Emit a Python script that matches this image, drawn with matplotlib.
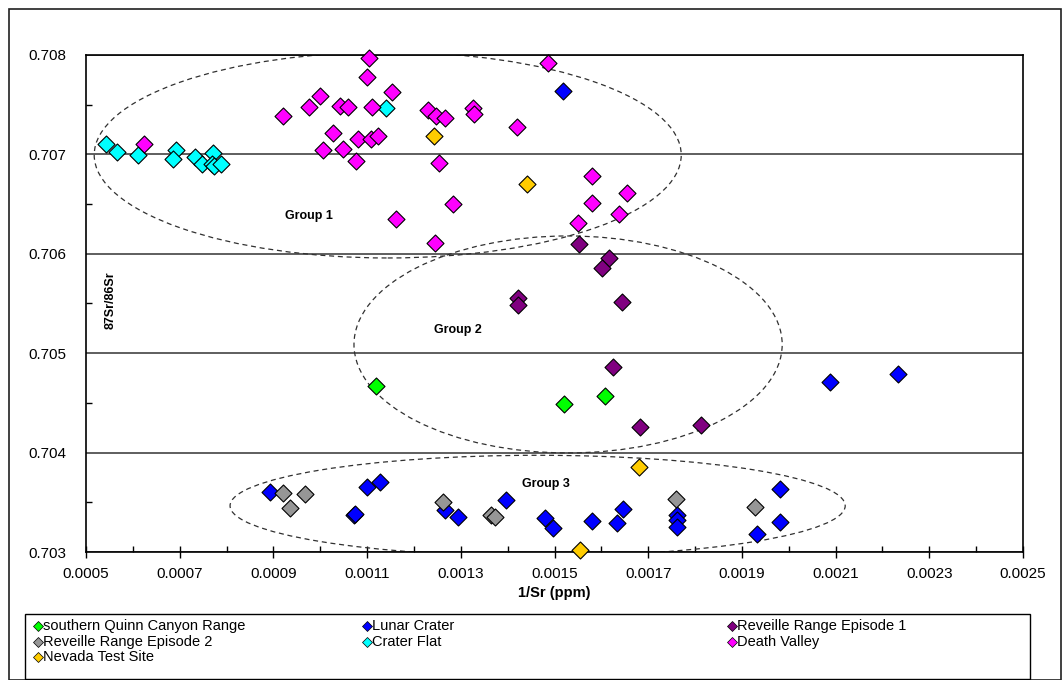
import matplotlib.pyplot as plt
import matplotlib.lines as mlines
from matplotlib.patches import Ellipse, Rectangle
from matplotlib.ticker import FixedLocator, MultipleLocator, FormatStrFormatter

plt.rcParams['font.family'] = ['Liberation Sans', 'DejaVu Sans']

# Series values
quinn_x = [0.001120, 0.001521, 0.001608]
quinn_y = [0.704673, 0.704486, 0.704573]

lunar_x = [0.001518, 0.002089, 0.002234, 0.000893, 0.001072, 0.001074, 0.001099,
           0.001127, 0.001266, 0.001295, 0.001396, 0.001480, 0.001496, 0.001579,
           0.001633, 0.001646, 0.001761, 0.001761, 0.001761, 0.001932, 0.001981,
           0.001981]
lunar_y = [0.707641, 0.704713, 0.704791, 0.703607, 0.703372, 0.703382, 0.703651,
           0.703707, 0.703423, 0.703356, 0.703523, 0.703339, 0.703239, 0.703315,
           0.703295, 0.703433, 0.703372, 0.703322, 0.703255, 0.703181, 0.703634,
           0.703299]

rev1_x = [0.001553, 0.001616, 0.001601, 0.001423, 0.001423, 0.001645, 0.001625,
          0.001682, 0.001813]
rev1_y = [0.706099, 0.705961, 0.705854, 0.705552, 0.705485, 0.705518, 0.704858,
          0.704258, 0.704278]

rev2_x = [0.000921, 0.000967, 0.000935, 0.001263, 0.001364, 0.001374, 0.001759, 0.001928]
rev2_y = [0.703591, 0.703581, 0.703440, 0.703506, 0.703372, 0.703349, 0.703530, 0.703456]

crater_x = [0.000542, 0.000566, 0.000610, 0.000693, 0.000685, 0.000733, 0.000748,
            0.000772, 0.000768, 0.000774, 0.000788, 0.001140]
crater_y = [0.707105, 0.707027, 0.706991, 0.707041, 0.706954, 0.706974, 0.706900,
            0.707014, 0.706900, 0.706883, 0.706900, 0.707464]

death_x = [0.000624, 0.000920, 0.000975, 0.001000, 0.001006, 0.001027, 0.001042,
           0.001060, 0.001049, 0.001077, 0.001081, 0.001099, 0.001103, 0.001111,
           0.001108, 0.001123, 0.001154, 0.001162, 0.001230, 0.001248, 0.001266,
           0.001253, 0.001284, 0.001245, 0.001327, 0.001329, 0.001419, 0.001487,
           0.001581, 0.001654, 0.001581, 0.001638, 0.001551]
death_y = [0.707105, 0.707389, 0.707480, 0.707591, 0.707044, 0.707212, 0.707487,
           0.707480, 0.707054, 0.706931, 0.707152, 0.707782, 0.707967, 0.707480,
           0.707152, 0.707185, 0.707625, 0.706350, 0.707447, 0.707389, 0.707363,
           0.706917, 0.706498, 0.706106, 0.707470, 0.707403, 0.707279, 0.707923,
           0.706783, 0.706609, 0.706508, 0.706398, 0.706313]

nevada_x = [0.001242, 0.001441, 0.001681, 0.001554]
nevada_y = [0.707188, 0.706699, 0.703858, 0.703020]

x_ticks = [0.0005, 0.0007, 0.0009, 0.0011, 0.0013, 0.0015, 0.0017, 0.0019, 0.0021, 0.0023, 0.0025]
y_ticks = [0.703, 0.704, 0.705, 0.706, 0.707, 0.708]

series = [
    ("southern Quinn Canyon Range", quinn_x, quinn_y, "#00FF00"),
    ("Lunar Crater", lunar_x, lunar_y, "#0000FF"),
    ("Reveille Range Episode 1", rev1_x, rev1_y, "#800080"),
    ("Reveille Range Episode 2", rev2_x, rev2_y, "#969696"),
    ("Crater Flat", crater_x, crater_y, "#00FFFF"),
    ("Death Valley", death_x, death_y, "#FF00FF"),
    ("Nevada Test Site", nevada_x, nevada_y, "#FFCC00"),
]

# Group ellipses: label, center, width, height, label position
groups = [
    ("Group 1", (0.001144, 0.706994), 0.001253, 0.002072, (0.000976, 0.70638)),
    ("Group 2", (0.001529, 0.705088), 0.000914, 0.002183, (0.001294, 0.705233)),
    ("Group 3", (0.001464, 0.703465), 0.001313, 0.001016, (0.001482, 0.703684)),
]


def main():
    fig = plt.figure(figsize=(10.62, 6.8), dpi=100)
    ax = fig.add_axes([86 / 1062, 1 - 552 / 680, (1023 - 86) / 1062, (552 - 55) / 680])

    # outer chart frame
    fig.add_artist(Rectangle((9 / 1062, 0.0), 1052 / 1062, 671 / 680,
                             transform=fig.transFigure, fill=False,
                             edgecolor="#202020", lw=1.2))

    for label, xs, ys, color in series:
        ax.scatter(xs, ys, marker="D", s=75, facecolor=color, edgecolor="black",
                   linewidth=0.8, zorder=3, clip_on=False, label=label)

    for name, center, w, h, pos in groups:
        ax.add_patch(Ellipse(center, w, h, fill=False, linestyle=(0, (4, 3)),
                             edgecolor="#303030", lw=0.9, zorder=2))
        ax.text(pos[0], pos[1], name, fontsize=9, fontweight="bold",
                ha="center", va="center")

    ax.set_xlim(0.0005, 0.0025)
    ax.set_ylim(0.703, 0.708)
    ax.xaxis.set_major_locator(FixedLocator(x_ticks))
    ax.xaxis.set_minor_locator(MultipleLocator(0.0001))
    ax.yaxis.set_major_locator(FixedLocator(y_ticks))
    ax.yaxis.set_minor_locator(MultipleLocator(0.0005))
    ax.xaxis.set_major_formatter(FormatStrFormatter("%.4f"))
    ax.yaxis.set_major_formatter(FormatStrFormatter("%.3f"))
    ax.tick_params(axis="x", which="major", direction="inout", length=9, width=1,
                   labelsize=11, pad=6)
    ax.tick_params(axis="x", which="minor", direction="in", length=4, width=1)
    ax.tick_params(axis="y", which="major", length=0, labelsize=11, pad=14)
    ax.tick_params(axis="y", which="minor", direction="in", length=4, width=1)
    ax.yaxis.grid(True, which="major", color="#333333", lw=1.1)
    ax.set_axisbelow(True)
    for sp in ax.spines.values():
        sp.set_color("black")
        sp.set_linewidth(1.2)

    ax.set_xlabel("1/Sr (ppm)", fontsize=10.5, fontweight="bold", labelpad=4)
    ax.text(0.026, 0.507, "87Sr/86Sr", transform=ax.transAxes, rotation=90,
            fontsize=9, fontweight="bold", ha="center", va="center")

    # legend box laid out like the original (three columns, row-wise)
    fig.add_artist(Rectangle((25 / 1062, 1 - 679 / 680), (1030 - 25) / 1062,
                             (679 - 614) / 680, transform=fig.transFigure,
                             fill=False, edgecolor="black", lw=1.0))
    col_x = [38, 367, 732]
    row_y = [626, 642, 657]
    for i, (label, xs, ys, color) in enumerate(series):
        cx = col_x[i % 3] / 1062
        cy = 1 - row_y[i // 3] / 680
        fig.add_artist(mlines.Line2D([cx], [cy], marker="D", markersize=5,
                                     markerfacecolor=color, markeredgecolor="black",
                                     markeredgewidth=0.5, linestyle="none",
                                     transform=fig.transFigure))
        fig.text(cx + 5 / 1062, cy, label, fontsize=10.5, ha="left", va="center")

    plt.savefig("out.png", dpi=100)


if __name__ == '__main__':
    main()
